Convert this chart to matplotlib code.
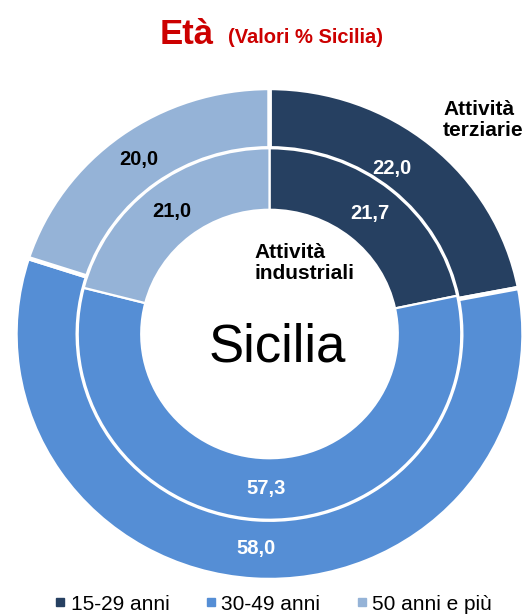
import matplotlib
matplotlib.use("Agg")
import matplotlib.pyplot as plt
from matplotlib.lines import Line2D
import numpy as np

plt.rcParams['font.family'] = ['Liberation Sans', 'DejaVu Sans']

# data
categories = ['15-29 anni', '30-49 anni', '50 anni e più']
terziarie = [22.0, 58.0, 20.0]      # outer ring
industriali = [21.7, 57.3, 21.0]    # inner ring
colors = ['#264061', '#558ED5', '#95B3D7']
label_colors = ['white', 'white', 'black']

W, H = 530, 616
fig = plt.figure(figsize=(W / 100, H / 100), dpi=100)

# donut centre (269, 334) px, radius 254 x 246 px
cx, cy, rx, ry = 269.5, 334, 254, 246
ax = fig.add_axes([(cx - rx) / W, (H - cy - ry) / H, 2 * rx / W, 2 * ry / H])

outer_w = 1 - 0.755
inner_r = 0.755
hole = 0.505

ax.pie(terziarie, radius=1, colors=colors, startangle=90, counterclock=False,
       wedgeprops=dict(width=outer_w, edgecolor='white', linewidth=3.2))
ax.pie(industriali, radius=inner_r, colors=colors, startangle=90, counterclock=False,
       wedgeprops=dict(width=inner_r - hole, edgecolor='white', linewidth=1.6))
ax.set_aspect('auto')
ax.set_xlim(-1, 1)
ax.set_ylim(-1, 1)
ax.axis('off')


def put_labels(vals, r, shift=0.0):
    start = 90.0
    for i, v in enumerate(vals):
        mid = start - v / 100 * 360 / 2
        start -= v / 100 * 360
        rr = r
        if i == 0:
            # first label sits a bit nearer the top
            mid += shift
            rr = r - 0.05 * (shift > 0)
        a = np.deg2rad(mid)
        ax.text(rr * np.cos(a), rr * np.sin(a), f"{v:.1f}".replace('.', ','),
                ha='center', va='center', color=label_colors[i], fontsize=14.5,
                fontweight='bold')


put_labels(terziarie, 0.875, shift=4)
put_labels(industriali, 0.63)

# titles
fig.text(214 / W, 1 - 44 / H, 'Età', color='#CC0000', fontsize=25,
         fontweight='bold', ha='right', va='baseline')
fig.text(228 / W, 1 - 43 / H, '(Valori % Sicilia)', color='#CC0000',
         fontsize=14.5, fontweight='bold', ha='left', va='baseline')

fig.text(443 / W, 1 - 120 / H, 'Attività\nterziarie', fontsize=15,
         fontweight='bold', ha='left', va='center', linespacing=1.15)
fig.text(254 / W, 1 - 263 / H, 'Attività\nindustriali', fontsize=15,
         fontweight='bold', ha='left', va='center', linespacing=1.15)
fig.text(277 / W, 1 - 348 / H, 'Sicilia', fontsize=38, ha='center', va='center')

handles = [Line2D([], [], marker='s', ls='', color=c, markersize=6) for c in colors]
fig.legend(handles, categories, loc='center', bbox_to_anchor=(272 / W, 1 - 604 / H),
           ncol=3, frameon=False, fontsize=15, handletextpad=0.1,
           columnspacing=1.6, handlelength=0.8, borderpad=0)

fig.savefig('out.png', dpi=100)
